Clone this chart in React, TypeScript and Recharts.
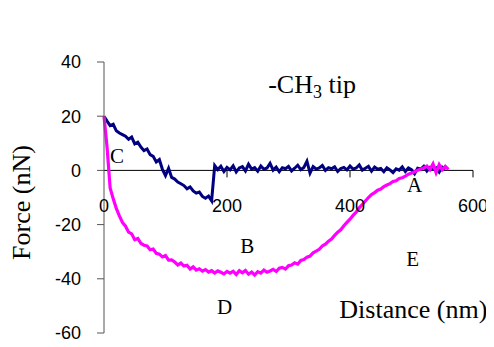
import React from 'react';
import { LineChart, Line, XAxis, YAxis, ReferenceLine, ReferenceDot } from 'recharts';

const distances = [
  0, 5, 10, 15, 20, 25, 30, 35, 40, 45, 50, 55, 60, 65, 70, 75, 80, 85, 90, 95,
  100, 105, 110, 115, 120, 125, 130, 135, 140, 145, 150, 155, 160, 165, 170, 175, 180, 185, 190, 195,
  200, 205, 210, 215, 220, 225, 230, 235, 240, 245, 250, 255, 260, 265, 270, 275, 280, 285, 290, 295,
  300, 305, 310, 315, 320, 325, 330, 335, 340, 345, 350, 355, 360, 365, 370, 375, 380, 385, 390, 395,
  400, 405, 410, 415, 420, 425, 430, 435, 440, 445, 450, 455, 460, 465, 470, 475, 480, 485, 490, 495,
  500, 505, 510, 515, 520, 525, 530, 535, 540, 545, 550, 555, 560,
];

const ch3Approach: (number | null)[] = [
  20, 18.2, 16.5, 17.0, 14.6, 13.8, 13.2, 12.6, 11.5, 12.3, 9.8, 10.4, 8.6, 7.3, 7.9, 5.8, 5.2, 3.1, 4.0, 0.4,
  -1.9, 0.8, -2.6, -3.2, -4.3, -4.9, -5.6, -6.8, -6.1, -7.6, -8.4, -8.0, -9.6, -10.3, -9.5, -11.2, 1.8, 0.3, 1.5, -0.4,
  1.1, 0.2, 1.7, -0.6, 0.9, 1.4, -0.2, 2.3, 0.5, 1.0, -0.3, 1.6, 0.4, 0.9, 2.6, 0.1, 1.2, -0.5, 1.0, 0.6,
  1.5, -0.2, 0.8, 1.9, 0.3, 1.1, 3.4, -1.0, 1.4, 0.5, 0.9, 1.8, 0.0, 1.0, 0.6, 1.3, -0.4, 0.7, 1.1, 0.2,
  1.6, 0.5, 0.9, 2.0, 0.1, 0.8, 1.5, -0.3, 1.2, 0.4, 0.7, -0.5, 1.0, 0.2, -0.8, 0.6, 0.1, 1.3, -0.4, 0.9,
  0.3, -1.2, 0.8, 0.5, 1.5, -0.2, 1.1, 0.4, 0.9, -0.6, 1.2, 0.3, null,
];

const ch3Retract: number[] = [
  20, 8.5, -6.5, -10.5, -14, -16.8, -19.2, -20.6, -22.8, -23.4, -25.6, -25.1, -26.9, -27.6, -27.9, -29.3, -29.0, -30.6, -30.9, -31.9,
  -31.4, -33.1, -33.0, -33.8, -34.9, -34.2, -35.3, -35.0, -36.4, -35.6, -36.8, -36.3, -37.2, -36.6, -37.5, -37.0, -37.9, -37.1, -37.6, -38.2,
  -37.3, -37.9, -37.2, -38.4, -37.0, -37.8, -36.9, -38.3, -37.5, -38.6, -37.4, -37.9, -36.8, -37.6, -37.1, -36.5, -37.3, -36.1, -35.8, -36.4,
  -35.2, -34.9, -34.1, -34.6, -33.2, -32.9, -32.0, -31.6, -30.4, -29.8, -29.1, -27.9, -27.2, -26.1, -25.3, -24.0, -22.8, -21.9, -20.4, -19.2,
  -18.0, -16.6, -15.4, -13.8, -12.6, -11.3, -10.0, -8.9, -8.2, -7.3, -6.9, -6.0, -5.4, -4.9, -4.1, -3.8, -3.0, -2.7, -2.1, -1.4,
  -1.0, -0.5, 0.1, 0.5, 0.9, 1.6, 0.3, 2.4, -0.8, 2.1, 0.2, 1.5, 0.4,
];

const yTicks = [-60, -40, -20, 0, 20, 40];
const xTicks = [0, 200, 400, 600];

const letterNames = ['C', 'B', 'D', 'A', 'E'];
const letterX = [21, 233, 196, 505, 502];
const letterY = [2.7, -30.5, -53, -8, -35.3];

const data = distances.map((d, i) => ({
  d,
  approach: ch3Approach[i],
  retract: ch3Retract[i],
}));

const SERIF = '"Liberation Serif", "Times New Roman", Times, serif';
const SANS = '"Liberation Sans", Arial, Helvetica, sans-serif';

const YLabel = (props: any) => {
  const vb = props.viewBox || {};
  const cx = vb.x + 13;
  const cy = vb.y + vb.height / 2 + 5;
  return (
    <text
      x={cx}
      y={cy}
      transform={`rotate(-90, ${cx}, ${cy})`}
      textAnchor="middle"
      dominantBaseline="central"
      fontFamily={SERIF}
      fontSize={26}
      fill="#000"
    >
      Force (nN)
    </text>
  );
};

export default function App() {
  return (
    <div style={{ width: 486, height: 339 }}>
      <LineChart
        width={486}
        height={339}
        data={data}
        margin={{ top: 54, right: 21, bottom: 14, left: 0 }}
      >
        <XAxis type="number" dataKey="d" domain={[0, 600]} ticks={xTicks} hide />
        <YAxis
          type="number"
          domain={[-60, 40]}
          ticks={yTicks}
          width={96}
          tickSize={7}
          tickMargin={16}
          axisLine={{ stroke: '#555', strokeWidth: 1 }}
          tickLine={{ stroke: '#555', strokeWidth: 1 }}
          tick={{ fill: '#000', fontSize: 18, fontFamily: SANS }}
          label={<YLabel />}
        />
        <ReferenceLine y={0} stroke="#000" strokeWidth={1} />
        {xTicks.map((t) => (
          <ReferenceDot
            key={'xt' + t}
            x={t}
            y={0}
            r={0}
            shape={(p: any) => (
              <g>
                {t !== 0 && (
                  <line x1={p.cx} x2={p.cx} y1={p.cy} y2={p.cy + 7} stroke="#000" strokeWidth={1} />
                )}
                <text
                  x={p.cx}
                  y={p.cy + 42}
                  textAnchor="middle"
                  fontFamily={SANS}
                  fontSize={18}
                  fill="#000"
                >
                  {t}
                </text>
              </g>
            )}
          />
        ))}
        <Line
          type="linear"
          dataKey="approach"
          stroke="#000080"
          strokeWidth={3}
          dot={false}
          isAnimationActive={false}
        />
        <Line
          type="linear"
          dataKey="retract"
          stroke="#FF00FF"
          strokeWidth={3.2}
          dot={false}
          isAnimationActive={false}
        />
        {letterNames.map((n, i) => (
          <ReferenceDot
            key={'l' + n}
            x={letterX[i]}
            y={letterY[i]}
            r={0}
            shape={(p: any) => (
              <text x={p.cx} y={p.cy} textAnchor="middle" fontFamily={SERIF} fontSize={21} fill="#000">
                {n}
              </text>
            )}
          />
        ))}
        <ReferenceDot
          x={267}
          y={28.5}
          r={0}
          shape={(p: any) => (
            <text x={p.cx} y={p.cy} textAnchor="start" fontFamily={SERIF} fontSize={26} fill="#000">
              -CH
              <tspan fontSize={18} dy={4.5}>3</tspan>
              <tspan dy={-4.5}> tip</tspan>
            </text>
          )}
        />
        <ReferenceDot
          x={503}
          y={-54.5}
          r={0}
          shape={(p: any) => (
            <text x={p.cx} y={p.cy} textAnchor="middle" fontFamily={SERIF} fontSize={26} fill="#000">
              Distance (nm)
            </text>
          )}
        />
      </LineChart>
    </div>
  );
}
